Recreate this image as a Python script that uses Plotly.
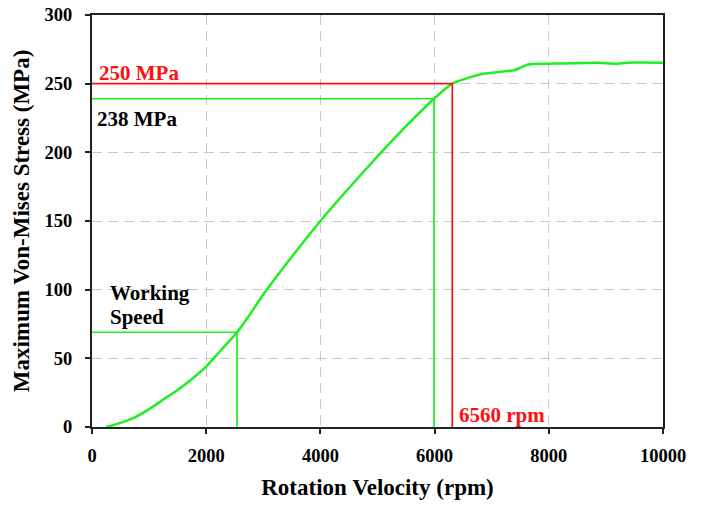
import plotly.graph_objects as go

# Curve data (rpm, MPa)
rpm = [250, 500, 750, 1000, 1250, 1500, 1750, 2000, 2250, 2540, 2750, 3000, 3250,
       3500, 4000, 4500, 5000, 5500, 5990, 6310, 6825, 7410, 7640, 8000, 8840, 9190, 9360, 10000]
stress = [0, 3, 7, 13, 20, 27, 35, 44, 55.5, 69, 81, 96.5, 110.5,
          124, 150, 174, 197, 219, 239, 250, 257, 260, 264, 264.5, 265.3, 264.5, 265.3, 265.3]

# Marker lines
work_rpm, work_stress = 2540, 69
g_rpm, g_stress = 5990, 239
r_rpm, r_stress = 6310, 250

x_ticks = [0, 2000, 4000, 6000, 8000, 10000]
y_ticks = [0, 50, 100, 150, 200, 250, 300]

GREEN = "#1EF01E"
RED = "#FF1010"
FONT = "Liberation Serif"

fig = go.Figure()
fig.add_trace(go.Scatter(x=rpm, y=stress, mode="lines", line_shape="spline",
                         line=dict(color=GREEN, width=2.5, smoothing=0.6), showlegend=False))
# working speed
fig.add_trace(go.Scatter(x=[0, work_rpm, work_rpm], y=[work_stress, work_stress, 0], mode="lines",
                         line=dict(color=GREEN, width=1.7), showlegend=False))
# 238 MPa
fig.add_trace(go.Scatter(x=[0, g_rpm, g_rpm], y=[g_stress, g_stress, 0], mode="lines",
                         line=dict(color=GREEN, width=1.7), showlegend=False))
# 250 MPa
fig.add_trace(go.Scatter(x=[0, r_rpm, r_rpm], y=[r_stress, r_stress, 0], mode="lines",
                         line=dict(color=RED, width=1.7), showlegend=False))

annots = [
    dict(x=88, y=258, text="<b>250 MPa</b>", color=RED),
    dict(x=55, y=224, text="<b>238 MPa</b>", color="black"),
    dict(x=280, y=97.6, text="<b>Working</b>", color="black"),
    dict(x=280, y=80.1, text="<b>Speed</b>", color="black"),
    dict(x=6387, y=8.7, text="<b>6560 rpm</b>", color=RED),
]
for a in annots:
    fig.add_annotation(x=a["x"], y=a["y"], text=a["text"], showarrow=False,
                       xanchor="left", yanchor="middle", align="left",
                       font=dict(family=FONT, size=21, color=a["color"]))

axis_common = dict(showline=True, linecolor="#222", linewidth=2, mirror=True,
                   ticks="outside", ticklen=5, tickcolor="#222", tickwidth=1.5,
                   showgrid=True, gridcolor="#c8c8c8", griddash="10px,6px", gridwidth=1.3,
                   zeroline=False, automargin=False,
                   tickfont=dict(family=FONT, size=18.5, color="black"))

fig.update_xaxes(range=[0, 10000], tickvals=x_ticks,
                 ticktext=["<b>%d</b>" % v for v in x_ticks],
                 ticklabelstandoff=6,
                 title=dict(text="<b>Rotation Velocity (rpm)</b>", font=dict(family=FONT, size=23, color="black"),
                            standoff=14),
                 **axis_common)
fig.update_yaxes(range=[0, 300], tickvals=y_ticks,
                 ticktext=["<b>%d</b>" % v for v in y_ticks],
                 ticklabelstandoff=9,
                 title=dict(text="<b>Maximum Von-Mises Stress (MPa)</b>", font=dict(family=FONT, size=23, color="black"),
                            standoff=8),
                 **axis_common)

fig.update_layout(width=704, height=506, margin=dict(l=92, r=41, t=15, b=79, autoexpand=False),
                  plot_bgcolor="white", paper_bgcolor="white",
                  font=dict(family=FONT, color="black"))

fig.write_html("out.html", config={"displayModeBar": False},
               post_script="document.body.style.margin='0';")
